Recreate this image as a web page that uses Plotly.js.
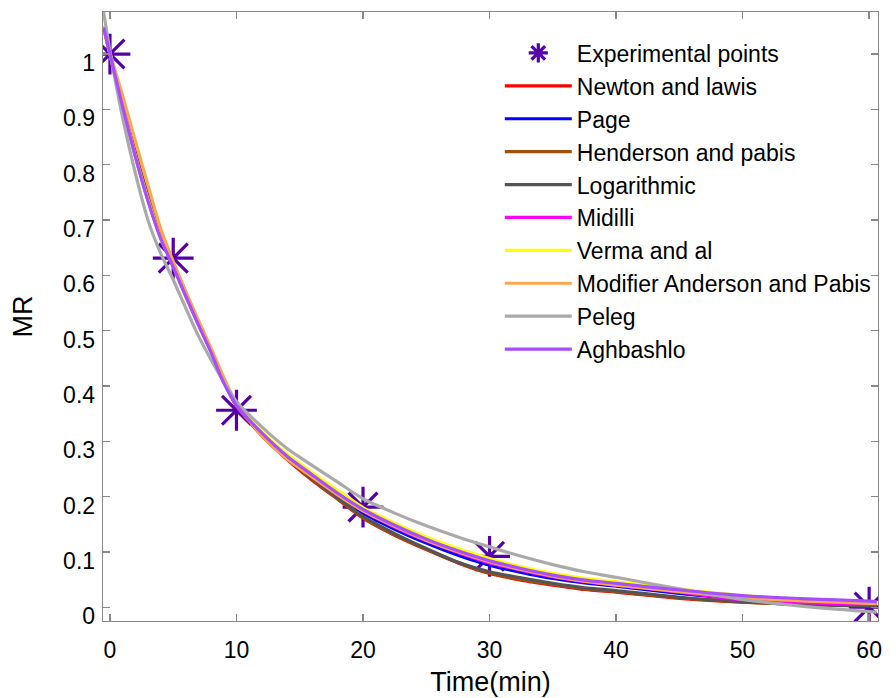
<!DOCTYPE html>
<html>
<head>
<meta charset="utf-8">
<script src="https://cdn.plot.ly/plotly-3.0.1.min.js"></script>
<style>html,body{margin:0;padding:0;background:#fff;}#chart{width:896px;height:698px;}</style>
</head>
<body>
<div id="chart"></div>
<script>
// Experimental data
const expTime = [0, 5, 10, 20, 30, 60];
const expMR   = [1.0, 0.631, 0.356, 0.181, 0.092, 0.0];

// Model curves
const tModel = [-0.5, 0, 1, 2, 3, 4, 5, 6, 7, 8, 9, 10, 12, 14, 16, 18, 20, 22.5, 25, 27.5, 30, 32.5, 35, 37.5, 40, 45, 50, 55, 60, 60.6];

const newton    = [1.05, 1.0, 0.908, 0.820, 0.742, 0.672, 0.620, 0.565, 0.512, 0.462, 0.410, 0.364, 0.310, 0.267, 0.229, 0.195, 0.161, 0.130, 0.104, 0.080, 0.061, 0.049, 0.040, 0.032, 0.027, 0.016, 0.009, 0.005, 0.003, 0.003];
const page      = [1.05, 1.0, 0.907, 0.818, 0.739, 0.670, 0.618, 0.564, 0.512, 0.463, 0.410, 0.365, 0.312, 0.270, 0.235, 0.202, 0.170, 0.141, 0.116, 0.094, 0.076, 0.063, 0.052, 0.044, 0.038, 0.025, 0.015, 0.009, 0.006, 0.006];
const henderson = [1.05, 1.0, 0.909, 0.821, 0.743, 0.673, 0.621, 0.566, 0.513, 0.463, 0.411, 0.364, 0.311, 0.268, 0.231, 0.196, 0.162, 0.131, 0.105, 0.081, 0.062, 0.050, 0.041, 0.033, 0.028, 0.017, 0.009, 0.005, 0.003, 0.003];
const logarithmic=[1.05, 1.0, 0.910, 0.823, 0.745, 0.675, 0.622, 0.568, 0.515, 0.465, 0.412, 0.365, 0.312, 0.270, 0.233, 0.198, 0.164, 0.133, 0.106, 0.081, 0.064, 0.053, 0.043, 0.035, 0.030, 0.018, 0.010, 0.005, 0.002, 0.002];
const midilli   = [1.05, 1.0, 0.906, 0.816, 0.736, 0.668, 0.616, 0.562, 0.511, 0.464, 0.408, 0.364, 0.313, 0.272, 0.238, 0.205, 0.174, 0.145, 0.120, 0.099, 0.080, 0.067, 0.055, 0.046, 0.040, 0.027, 0.013, 0.008, 0.005, 0.005];
const verma     = [1.05, 1.0, 0.906, 0.816, 0.737, 0.668, 0.617, 0.563, 0.512, 0.465, 0.408, 0.366, 0.317, 0.277, 0.243, 0.211, 0.180, 0.152, 0.127, 0.106, 0.088, 0.073, 0.061, 0.052, 0.046, 0.033, 0.021, 0.014, 0.009, 0.009];
const modHenderson=[1.045, 1.002, 0.925, 0.843, 0.763, 0.685, 0.625, 0.570, 0.518, 0.468, 0.415, 0.368, 0.310, 0.268, 0.235, 0.203, 0.174, 0.146, 0.121, 0.100, 0.082, 0.068, 0.056, 0.047, 0.040, 0.028, 0.017, 0.011, 0.007, 0.007];
const peleg     = [1.076, 1.005, 0.885, 0.785, 0.700, 0.640, 0.592, 0.540, 0.490, 0.447, 0.407, 0.372, 0.326, 0.287, 0.256, 0.226, 0.196, 0.170, 0.147, 0.127, 0.109, 0.092, 0.077, 0.064, 0.054, 0.033, 0.014, 0.001, -0.008, -0.009];
const aghbashlo = [1.048, 1.0, 0.905, 0.815, 0.735, 0.667, 0.615, 0.562, 0.510, 0.460, 0.405, 0.365, 0.315, 0.273, 0.239, 0.206, 0.177, 0.148, 0.123, 0.102, 0.084, 0.070, 0.058, 0.049, 0.043, 0.031, 0.021, 0.015, 0.011, 0.010];

const modelNames  = ['Newton and lawis', 'Page', 'Henderson and pabis', 'Logarithmic', 'Midilli', 'Verma and al', 'Modifier Anderson and Pabis', 'Peleg', 'Aghbashlo'];
const modelValues = [newton, page, henderson, logarithmic, midilli, verma, modHenderson, peleg, aghbashlo];
const modelColors = ['#ff0000', '#0000ff', '#a0520a', '#555555', '#ff00ff', '#ffff00', '#ffa64d', '#aaaaaa', '#a64dff'];

const xTicks = [0, 10, 20, 30, 40, 50, 60];
const yTicks = [0, 0.1, 0.2, 0.3, 0.4, 0.5, 0.6, 0.7, 0.8, 0.9, 1];

const FONT = 'Liberation Sans, Arial, sans-serif';

const traces = [{
  x: expTime, y: expMR, type: 'scatter', mode: 'markers', name: 'Experimental points',
  marker: {symbol: 'asterisk-open', size: 34, color: '#5500aa', line: {color: '#5500aa', width: 3.2}}
}];
modelNames.forEach((n, i) => {
  traces.push({
    x: tModel, y: modelValues[i], type: 'scatter', mode: 'lines', name: n,
    line: {color: modelColors[i], width: 3.2, shape: 'spline', smoothing: 0.6}
  });
});

const axisCommon = {
  showgrid: false, zeroline: false, showline: true, linecolor: '#888888', linewidth: 1.3,
  mirror: 'ticks', ticks: 'inside', ticklen: 7, tickwidth: 1.3, tickcolor: '#888888',
  tickfont: {family: FONT, size: 23, color: '#000'}
};

const layout = {
  width: 896, height: 698,
  margin: {l: 103, r: 18, t: 12, b: 77},
  paper_bgcolor: '#fff', plot_bgcolor: '#fff',
  font: {family: FONT, color: '#000'},
  showlegend: true,
  xaxis: Object.assign({}, axisCommon, {
    range: [-0.55, 60.7], tickvals: xTicks, ticktext: xTicks.map(String),
    ticklabelstandoff: 8,
    title: {text: 'Time(min)', font: {family: FONT, size: 27, color: '#000'}, standoff: 10}
  }),
  yaxis: Object.assign({}, axisCommon, {
    range: [-0.025, 1.076], tickvals: yTicks, ticktext: yTicks.map(String),
    ticklabelshift: 9, ticklabelstandoff: 2,
    title: {text: 'MR', font: {family: FONT, size: 27, color: '#000'}, standoff: 22}
  }),
  legend: {
    x: 0.512, y: 0.968, xanchor: 'left', yanchor: 'top',
    bgcolor: 'rgba(0,0,0,0)', borderwidth: 0,
    font: {family: FONT, size: 23, color: '#000'},
    itemwidth: 67, tracegroupgap: 0
  }
};

Plotly.newPlot('chart', traces, layout, {displayModeBar: false, staticPlot: true});
</script>
</body>
</html>
